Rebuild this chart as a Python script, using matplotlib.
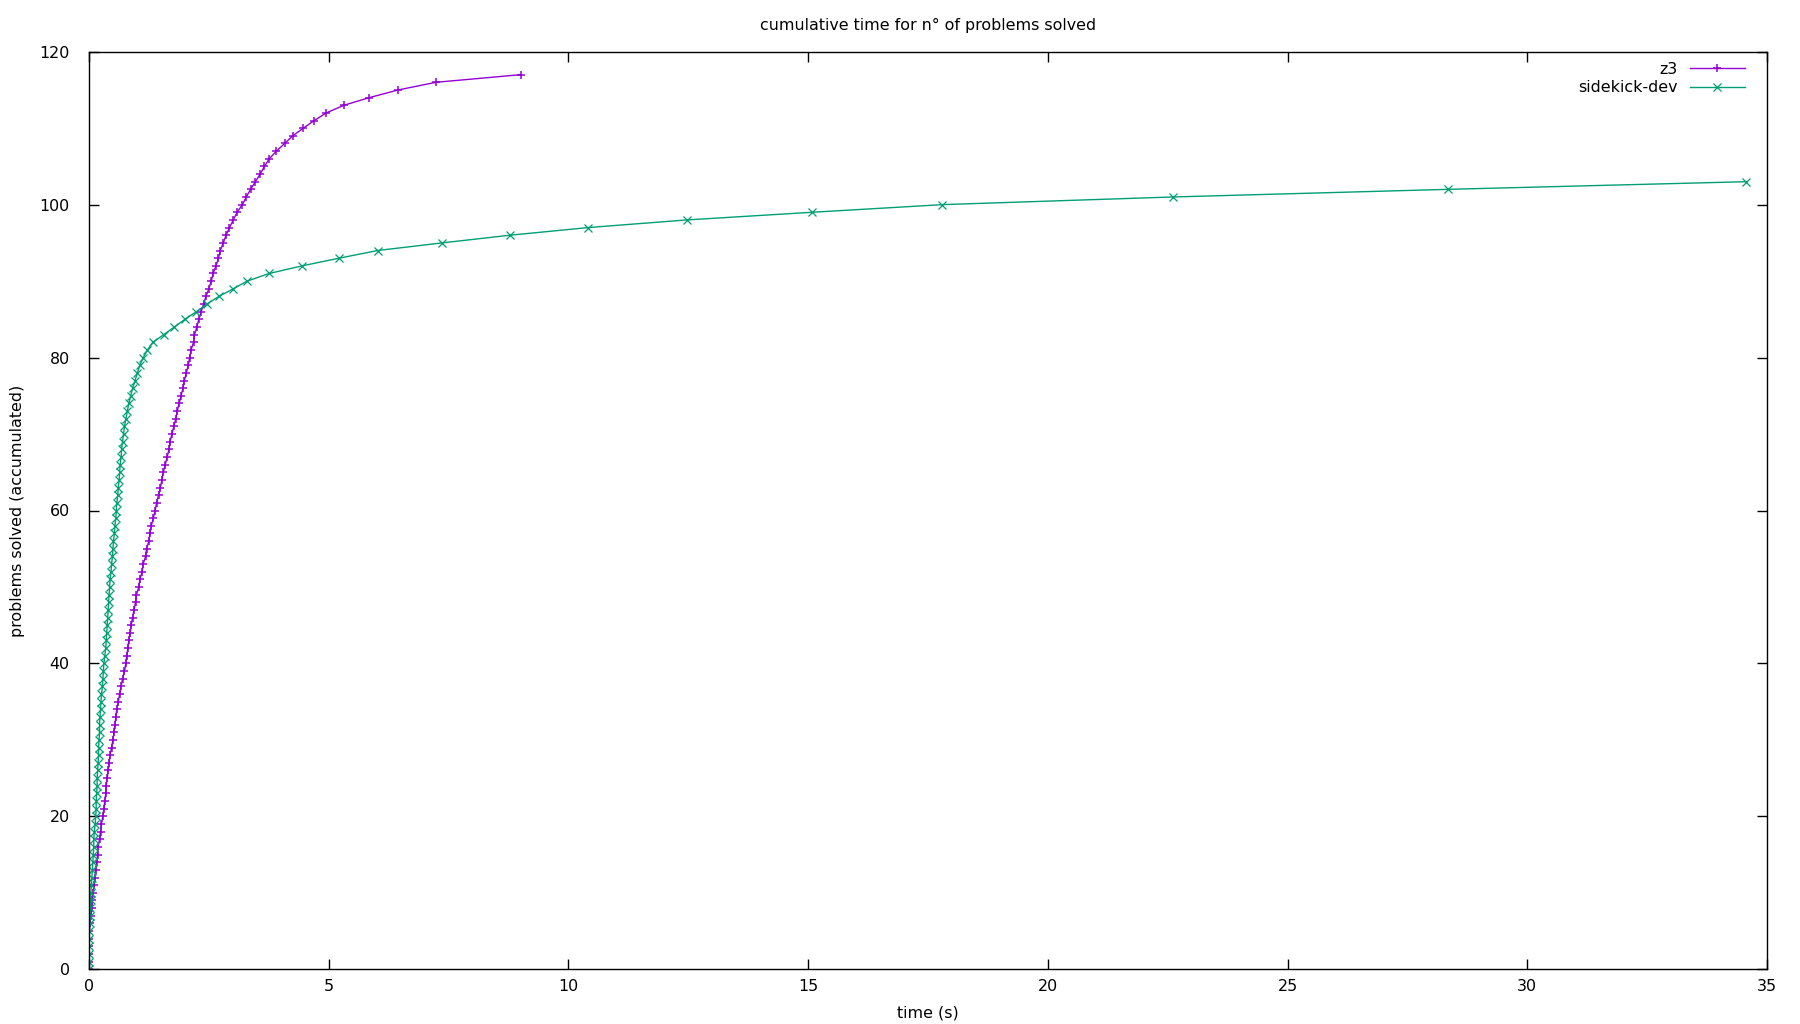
import numpy as np
import matplotlib
matplotlib.use("Agg")
import matplotlib.pyplot as plt

# cumulative solve time (s) for the n-th problem
z3_time = [
    0.0, 0.002, 0.003, 0.004, 0.006, 0.01, 0.02, 0.035, 0.06, 0.07,
    0.08, 0.11, 0.13, 0.14, 0.16, 0.18, 0.19, 0.22, 0.24, 0.26,
    0.29, 0.31, 0.33, 0.35, 0.36, 0.38, 0.40, 0.42, 0.44, 0.47,
    0.50, 0.52, 0.54, 0.56, 0.58, 0.61, 0.64, 0.67, 0.70, 0.74,
    0.77, 0.79, 0.81, 0.83, 0.86, 0.88, 0.91, 0.94, 0.97, 0.99,
    1.04, 1.06, 1.11, 1.13, 1.18, 1.20, 1.25, 1.27, 1.30, 1.34,
    1.38, 1.41, 1.45, 1.49, 1.52, 1.55, 1.59, 1.63, 1.67, 1.69,
    1.73, 1.77, 1.81, 1.84, 1.88, 1.92, 1.96, 1.99, 2.03, 2.07,
    2.10, 2.13, 2.18, 2.20, 2.25, 2.29, 2.34, 2.39, 2.44, 2.50,
    2.55, 2.59, 2.65, 2.70, 2.74, 2.80, 2.86, 2.93, 3.01, 3.09,
    3.20, 3.28, 3.37, 3.47, 3.57, 3.66, 3.76, 3.91, 4.08, 4.25,
    4.47, 4.70, 4.95, 5.32, 5.85, 6.45, 7.24, 9.01,
]

sidekick_time = [
    0.0, 0.001, 0.002, 0.003, 0.004, 0.007, 0.014, 0.02, 0.03, 0.035,
    0.04, 0.05, 0.06, 0.07, 0.08, 0.09, 0.10, 0.10, 0.11, 0.13,
    0.14, 0.15, 0.15, 0.16, 0.17, 0.17, 0.18, 0.19, 0.20, 0.20,
    0.21, 0.22, 0.22, 0.23, 0.24, 0.25, 0.26, 0.28, 0.29, 0.30,
    0.31, 0.33, 0.35, 0.36, 0.37, 0.38, 0.39, 0.40, 0.41, 0.42,
    0.43, 0.44, 0.46, 0.47, 0.49, 0.50, 0.51, 0.53, 0.54, 0.56,
    0.57, 0.58, 0.60, 0.61, 0.63, 0.64, 0.65, 0.67, 0.68, 0.70,
    0.72, 0.74, 0.77, 0.80, 0.83, 0.87, 0.91, 0.96, 1.01, 1.06,
    1.13, 1.22, 1.33, 1.56, 1.78, 2.00, 2.24, 2.46, 2.71, 3.01,
    3.30, 3.76, 4.45, 5.22, 6.02, 7.37, 8.78, 10.41, 12.47, 15.08,
    17.8, 22.6, 28.35, 34.57,
]

# n-th problem solved (the count itself)
z3_solved = list(range(len(z3_time)))
sidekick_solved = list(range(len(sidekick_time)))

x_ticks = [0, 5, 10, 15, 20, 25, 30, 35]
y_ticks = [0, 20, 40, 60, 80, 100, 120]

FS = 11.4
plt.rcParams["font.family"] = ["DejaVu Sans"]
plt.rcParams["font.size"] = FS

W, H = 1800, 1024
left, right, top, bottom = 89, 1767, 51.7, 969.3  # plot frame in pixels

fig = plt.figure(figsize=(W / 100, H / 100), dpi=100)
ax = fig.add_axes([left / W, 1 - bottom / H, (right - left) / W, (bottom - top) / H])

ax.plot(z3_time, z3_solved, color="#9400d3", lw=1.0, marker="+",
        ms=6.0, mew=1.1, label="z3")
ax.plot(sidekick_time, sidekick_solved, color="#009e73", lw=1.0, marker="x",
        ms=5.3, mew=0.9, label="sidekick-dev")

ax.set_xlim(0, 35)
ax.set_ylim(0, 120)
ax.set_xticks(x_ticks)
ax.set_yticks(y_ticks)
ax.tick_params(direction="in", length=7, width=1, top=True, right=True)
ax.tick_params(axis="x", pad=7)
ax.tick_params(axis="y", pad=14)
for sp in ax.spines.values():
    sp.set_linewidth(1.0)

pw, ph = right - left, bottom - top
# axes.titlesize defaults to "large", so give the size explicitly
ax.set_title("cumulative time for n° of problems solved", fontsize=FS, pad=0,
             y=1 + (top - 25) / ph, va="center")
ax.set_xlabel("time (s)", va="center")
ax.xaxis.set_label_coords(0.5, -(1013 - bottom) / ph)
ax.set_ylabel("problems solved (accumulated)", va="center")
ax.yaxis.set_label_coords(-(left - 17) / pw, 0.5)

ax.legend(loc="upper right", bbox_to_anchor=((1745 - left) / pw, (bottom - 62) / ph),
          frameon=False, markerfirst=False, handlelength=3.5, handletextpad=0.75,
          borderaxespad=0, borderpad=0, labelspacing=0.2)

fig.savefig("out.png", dpi=100)
